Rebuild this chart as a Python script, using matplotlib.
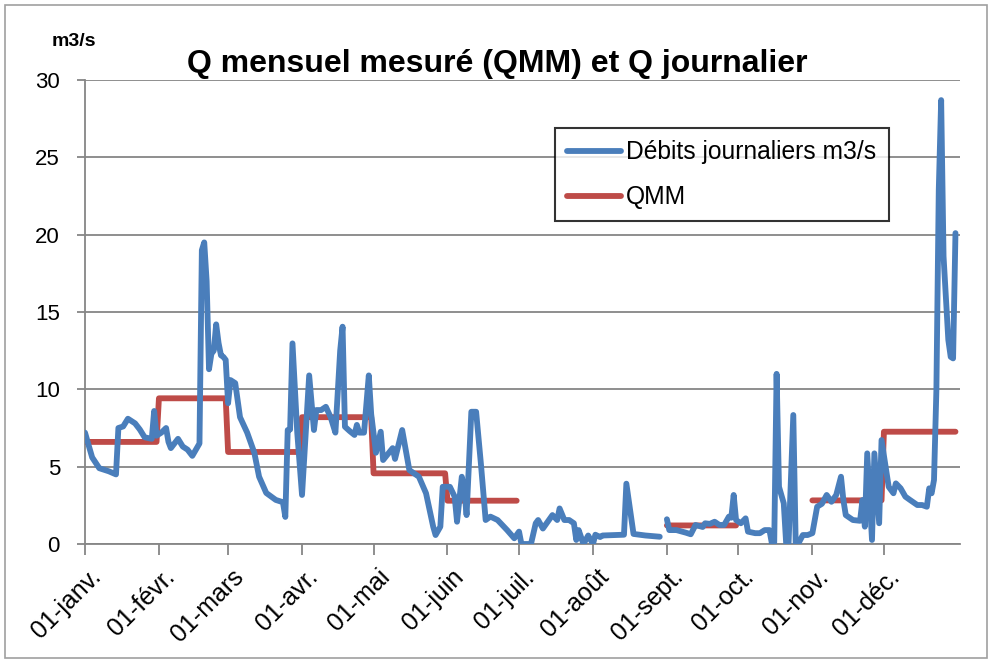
import matplotlib
matplotlib.use("Agg")
import matplotlib.pyplot as plt
import numpy as np
import pandas as pd
from matplotlib.patches import Rectangle
import matplotlib.transforms as mtransforms

# ---------------- data ----------------
year = 2012  # leap year (29 days in February)

# daily discharge (m3/s), day of year -> value (NaN = missing)
jour = [1, 4, 7, 9, 11, 14, 15, 17, 19, 22, 24, 26, 29, 30, 31, 33, 35, 36, 37, 40,
        42, 44, 46, 49, 50, 51, 52, 53, 54, 55, 56, 57, 58, 59, 60, 61, 62, 64,
        66, 69, 72, 74, 77, 81, 84, 85, 86, 87, 88, 90, 92, 95, 97, 98, 100, 102,
        104, 106, 108, 109, 110, 112, 114, 115, 116, 118, 120, 121, 123, 125, 126,
        130, 131, 134, 137, 141, 144, 147, 148, 150, 151, 154, 156, 157, 159, 160,
        161, 163, 165, 167, 169, 171, 174, 178, 181, 183, 184, 186, 188, 190, 191,
        193, 195, 197, 199, 200, 202, 204, 206, 207, 208, 210, 212, 214, 215, 217,
        218, 227, 228, 231, 236, 242, 243,
        245, 246, 249, 253, 255, 257, 260, 261, 263, 265, 267, 269, 271, 272, 273,
        274, 276, 278, 279, 282, 284, 286, 288, 289, 290, 291, 292, 294, 295, 296,
        298, 299, 300, 302, 304, 306, 308, 310, 312, 314, 316, 318, 319, 320, 323,
        326, 327, 328, 329, 331, 332, 334, 335, 338, 340, 341, 343, 345, 347, 350,
        352, 354, 355, 356, 357, 358, 359, 360, 361, 363, 364, 365, 366]
debit = [7.2, 5.6, 4.9, 4.8, 4.7, 4.5, 7.5, 7.6, 8.1, 7.8, 7.4, 6.9, 6.8, 8.6, 7.0, 7.2, 7.5, 6.6, 6.2, 6.8,
         6.3, 6.1, 5.7, 6.5, 19.0, 19.5, 17.0, 11.3, 12.3, 12.5, 14.2, 13.0, 12.2, 12.1, 11.9, 9.1, 10.6, 10.4,
         8.2, 7.2, 5.9, 4.35, 3.3, 2.85, 2.7, 1.75, 7.37, 7.4, 12.97, 7.2, 3.17, 10.9, 7.37, 8.66, 8.66, 8.87,
         8.2, 7.2, 12.5, 14.05, 7.58, 7.3, 7.05, 7.7, 7.2, 7.2, 10.9, 8.4, 5.9, 7.26, 5.43,
         6.2, 5.5, 7.37, 4.78, 4.35, 3.28, 1.12, 0.58, 1.12, 3.7, 3.7, 3.06, 1.44, 4.35, 3.6,
         1.87, 8.55, 8.55, 5.2, 1.55, 1.77, 1.55, 0.9, 0.37, 0.8, 0.0, 0.0, 0.0, 1.34, 1.55,
         1.0, 1.44, 1.87, 1.55, 2.3, 1.55, 1.55, 1.34, 0.26, 0.9, 0.0, 0.55, 0.0, 0.6, 0.45,
         0.55, 0.6, 3.9, 0.65, 0.55, 0.47, np.nan,
         1.6, 0.9, 0.9, 0.73, 0.63, 1.23, 1.1, 1.34, 1.3, 1.44, 1.23, 1.23, 1.77, 1.7, 3.17,
         1.55, 1.34, 1.66, 0.8, 0.7, 0.7, 0.9, 0.9, 0.05, 0.1, 11.0, 3.7, 2.63, 0.05, 0.0,
         8.34, 0.05, 0.0, 0.58, 0.58, 0.7, 2.41, 2.6, 3.17, 2.73, 3.17, 4.35, 2.84, 1.87, 1.55,
         1.5, 2.84, 1.12, 5.86, 0.26, 5.86, 1.34, 6.72, 3.7, 3.28, 3.92, 3.6, 3.06, 2.84, 2.52,
         2.52, 2.41, 3.6, 3.28, 4.14, 9.95, 22.9, 28.7, 18.6, 13.2, 12.1, 12.0, 20.1]

# monthly measured discharge QMM (m3/s), NaN = not available
qmm_mensuel = [6.6, 9.42, 5.95, 8.2, 4.57, 2.8, np.nan, np.nan, 1.2, np.nan, 2.82, 7.26]

mois_labels = ["01-janv.", "01-févr.", "01-mars", "01-avr.", "01-mai", "01-juin",
               "01-juil.", "01-août", "01-sept.", "01-oct.", "01-nov.", "01-déc."]

titre = "Q mensuel mesuré (QMM) et Q journalier"
unite = "m3/s"
lab_bleu = "Débits journaliers m3/s"
lab_rouge = "QMM"

# ---------------- derived ----------------
dates = pd.date_range(f"{year}-01-01", f"{year}-12-31", freq="D")
jours_all = dates.dayofyear.values
qmm_daily = np.array(qmm_mensuel)[dates.month.values - 1]
month_starts = pd.date_range(f"{year}-01-01", periods=12, freq="MS").dayofyear.values

# ---------------- figure ----------------
W, H = 993, 662
fig = plt.figure(figsize=(W / 100, H / 100), dpi=100)
fig.patch.set_facecolor("white")

ax = fig.add_axes([85 / W, 1 - 544 / H, (960 - 85) / W, (544 - 80) / H])

grid_c = "#868686"
blue = "#4A7EBB"
red = "#BE4B48"

ax.plot(jours_all, qmm_daily, color=red, lw=4.2, solid_capstyle="round",
        solid_joinstyle="round", label=lab_rouge, zorder=3)
ax.plot(jour, debit, color=blue, lw=4.2, solid_capstyle="round",
        solid_joinstyle="round", label=lab_bleu, zorder=4)

ax.set_xlim(1, 367.9)
ax.set_ylim(0, 30)
ax.set_yticks(np.arange(0, 31, 5))
ax.yaxis.grid(True, color=grid_c, lw=1.3)
ax.set_axisbelow(True)

for s in ["top", "right"]:
    ax.spines[s].set_visible(False)
for s in ["left", "bottom"]:
    ax.spines[s].set_color(grid_c)
    ax.spines[s].set_linewidth(1.3)

ax.set_xticks(month_starts)
ax.set_xticklabels(mois_labels, rotation=45, ha="right", va="center",
                   rotation_mode="anchor", fontsize=18, family="Liberation Sans")
ax.tick_params(axis="x", length=8, width=1.3, color=grid_c, pad=13)
ax.tick_params(axis="y", length=6, width=1.3, color=grid_c, labelsize=16, pad=12)
for t in ax.get_yticklabels():
    t.set_family("Liberation Sans")

# shift x labels slightly right
offset = mtransforms.ScaledTranslation(12 / 100, 0, fig.dpi_scale_trans)
for t in ax.get_xticklabels():
    t.set_transform(t.get_transform() + offset)

# title and unit
fig.text(497 / W, 1 - 64 / H, titre, ha="center", va="center",
         fontsize=23, fontweight="bold", family="Liberation Sans")
fig.text(52 / W, 1 - 42 / H, unite, ha="left", va="center",
         fontsize=14, fontweight="bold", family="Liberation Sans")

# legend
handles, labels = ax.get_legend_handles_labels()
leg = ax.legend(handles[::-1], labels[::-1], loc="upper left",
                bbox_to_anchor=(555 / W, 1 - 128 / H), bbox_transform=fig.transFigure,
                frameon=True, fancybox=False, borderaxespad=0,
                borderpad=0.5, labelspacing=0.85, handlelength=2.2,
                handletextpad=0.2, prop={"family": "Liberation Sans", "size": 17.7})
leg.get_frame().set_edgecolor("black")
leg.get_frame().set_linewidth(1.5)

# figure border
fig.patches.append(Rectangle((5 / W, 4 / H), (W - 11) / W, (H - 9) / H,
                             transform=fig.transFigure, fill=False,
                             edgecolor="#A0A0A0", lw=1.2))

fig.savefig("out.png", dpi=100)
